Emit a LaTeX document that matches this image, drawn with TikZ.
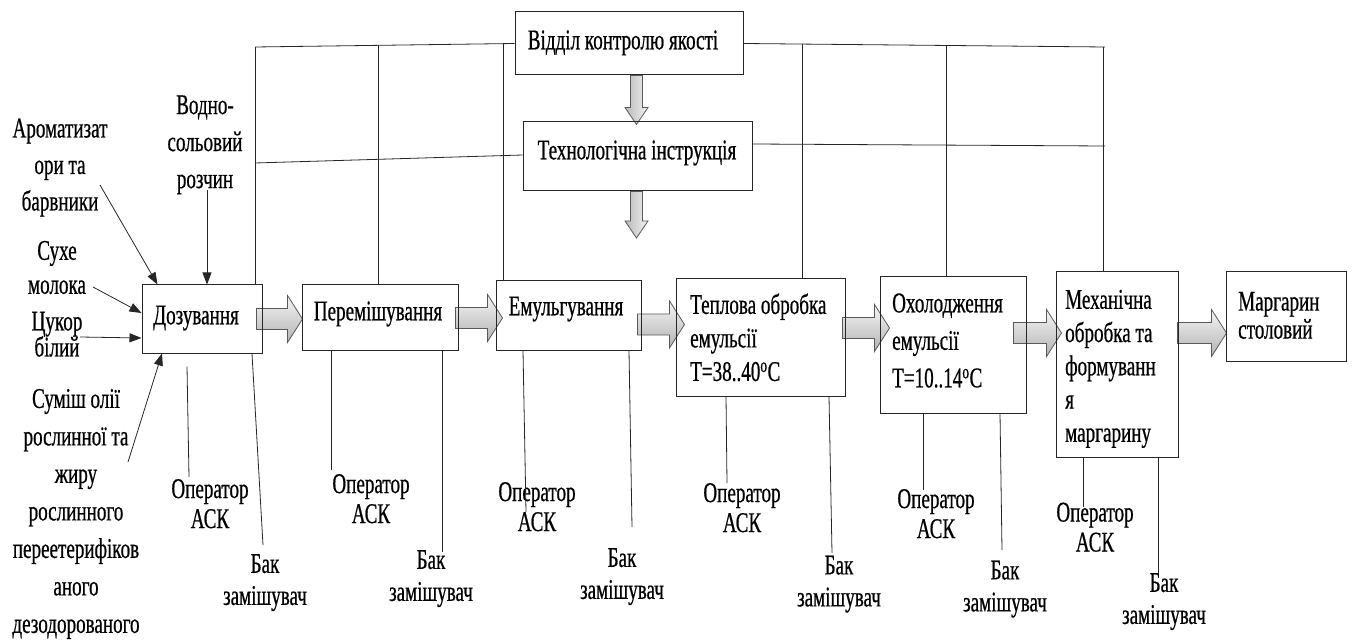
\documentclass[tikz,border=0pt]{standalone}
\usepackage{fontspec}
\setmainfont{Liberation Serif}[FakeStretch=0.67,FakeBold=0.6]
\usetikzlibrary{calc,arrows.meta,backgrounds}
\lineskiplimit=-100pt
\newcommand\fz[1]{\fontsize{28.5}{#1}\selectfont}
% horizontal block arrow: start anchor, start x offset, end anchor, tip x offset, centre y
\newcommand\harrow[5]{%
  \path[barrow] let \p1=(#1),\p2=(#3) in
  ({\x1+(#2pt)},{-#5pt+10.5pt}) -- ({\x2+(#4pt)-15pt},{-#5pt+10.5pt}) --
  ({\x2+(#4pt)-15pt},{-#5pt+23.5pt}) -- ({\x2+(#4pt)},{-#5pt}) --
  ({\x2+(#4pt)-15pt},{-#5pt-23.5pt}) -- ({\x2+(#4pt)-15pt},{-#5pt-10.5pt}) --
  ({\x1+(#2pt)},{-#5pt-10.5pt}) -- cycle;}
% vertical block arrow: start anchor, start offset, end anchor, tip offset (down), centre x
\newcommand\varrow[5]{%
  \path[varrowst] let \p1=(#1),\p2=(#3) in
  ({#5pt-6pt},{\y1-(#2pt)}) -- ({#5pt-6pt},{\y2-(#4pt)+17pt}) --
  ({#5pt-11.5pt},{\y2-(#4pt)+17pt}) -- ({#5pt},{\y2-(#4pt)}) --
  ({#5pt+11.5pt},{\y2-(#4pt)+17pt}) -- ({#5pt+6pt},{\y2-(#4pt)+17pt}) --
  ({#5pt+6pt},{\y1-(#2pt)}) -- cycle;}
\begin{document}
\begin{tikzpicture}[x=1pt,y=-1pt,
  box/.style={draw=black!85,line width=1pt,inner sep=0pt,rectangle},
  ln/.style={draw=black!85,line width=0.8pt},
  inar/.style={ln,-{Triangle[length=12pt,width=9pt]}},
  barrow/.style={draw=black!65,line width=0.8pt,top color=gray!8,bottom color=gray!60},
  varrowst/.style={draw=black!65,line width=0.8pt,left color=gray!55,right color=gray!10},
  lbl/.style={inner sep=0pt,align=center,font=\fz{#1}}, lbl/.default=36.5,
  bt/.style={inner sep=0pt,align=left,anchor=west,font=\fz{#1}}, bt/.default=36.5]
\useasboundingbox (0,0) rectangle (1352,644);

% boxes
\node[box,minimum width=228pt,minimum height=63pt] (vk) at (629,43.5) {};
\node[box,minimum width=229pt,minimum height=69pt] (ti) at (637.5,156.5) {};
\node[box,minimum width=120pt,minimum height=68pt] (doz) at (202,319) {};
\node[box,minimum width=156pt,minimum height=65pt] (per) at (380,317.5) {};
\node[box,minimum width=145pt,minimum height=69pt] (emu) at (568.5,315.5) {};
\node[box,minimum width=169pt,minimum height=117pt] (tep) at (760.5,337.5) {};
\node[box,minimum width=146pt,minimum height=136pt] (oh) at (953,345) {};
\node[box,minimum width=122pt,minimum height=185pt] (meh) at (1117,364.5) {};
\node[box,minimum width=120pt,minimum height=89pt] (mar) at (1286,316.5) {};

% box texts
\node[lbl] (vkt) at (623,42) {\strut Відділ контролю якості};
\node[lbl] (tit) at (637,152) {\strut Технологічна інструкція};
\node[lbl] (dozt) at (196,317) {\strut Дозування};
\node[lbl] (pert) at (378,313) {\strut Перемішування};
\node[lbl] (emut) at (566,308) {\strut Емульгування};
\node[bt=33.5] (tept) at (690,340.7) {\strut Теплова обробка\\\strut емульсії\\\strut T=38..40\textsuperscript{o}C};
\node[bt=37.5] (oht) at (892,342.3) {\strut Охолодження\\\strut емульсії\\\strut T=10..14\textsuperscript{o}C};
\node[bt=33.25] (meht) at (1065,368.6) {\strut Механічна\\\strut обробка та\\\strut формуванн\\\strut я\\\strut маргарину};
\node[bt=28] (mart) at (1238,319) {\strut Маргарин\\\strut столовий};

% block arrows (below box outlines)
\begin{scope}[on background layer]
\varrow{vk.south}{0}{ti.north}{3}{636.5}
\coordinate (tiarr) at (636.5,238);
\varrow{ti.south}{0}{tiarr}{0}{636.5}
\harrow{doz.east}{-6}{per.west}{1}{319}
\harrow{per.east}{-3}{emu.west}{7}{318}
\harrow{emu.east}{-4}{tep.west}{9}{324.5}
\harrow{tep.east}{-3}{oh.west}{10}{328}
\harrow{oh.east}{-13}{meh.west}{6}{333}
\harrow{meh.east}{-1}{mar.west}{1}{333}
\end{scope}

% input labels
\node[lbl] (arom) at (60,166.7) {\strut Ароматизат\\\strut ори та\\\strut барвники};
\node[lbl=34] (suhe) at (57,270) {\strut Сухе\\\strut молока};
\node[lbl=26] (tsuk) at (57,338) {\strut Цукор\\\strut білий};
\node[lbl=37.5] (sum) at (76,512.9) {\strut Суміш олії\\\strut рослинної та\\\strut жиру\\\strut рослинного\\\strut переетерифіков\\\strut аного\\\strut дезодорованого};
\node[lbl=37] (vodno) at (205,143.7) {\strut Водно-\\\strut сольовий\\\strut розчин};

% input arrows
\coordinate (a1) at (100,185);
\coordinate (a2) at (207,190);
\coordinate (a3) at (93,287);
\coordinate (a4) at (80,337);
\coordinate (a5) at (128,462);
\draw[inar] (a1) -- ([xshift=16pt]doz.north west);
\draw[inar] (a2) -- (a2 |- doz.north);
\draw[inar] (a3) -- ([yshift=6pt]doz.west);
\draw[inar] (a4) -- ([yshift=-19pt]doz.west);
\draw[inar] (a5) -- ([xshift=-40pt]doz.south);

% control lines
\coordinate (tl) at (255,47);
\coordinate (tr) at (1105,47);
\coordinate (ml) at (255,163);
\coordinate (mr) at (1105,146);
\draw[ln] (vk.west) -- (tl);
\draw[ln] (vk.east) -- (tr);
\draw[ln] ([yshift=1.5pt]ti.west) -- (ml);
\draw[ln] ([yshift=12.5pt]ti.east) -- (mr);
\coordinate (v2) at (378,45.3);
\coordinate (v3) at (503,43.7);
\coordinate (v4) at (802,44.1);
\coordinate (v5) at (946,45.5);
\coordinate (v6) at (1103,47);
\draw[ln] (tl) -- (tl |- doz.north);
\draw[ln] (v2) -- (v2 |- per.north);
\draw[ln] (v3) -- (v3 |- emu.north);
\draw[ln] (v4) -- (v4 |- tep.north);
\draw[ln] (v5) -- (v5 |- oh.north);
\draw[ln] (v6) -- (v6 |- meh.north);

% bottom labels
\node[lbl=30] (dop) at (210,507) {\strut Оператор\\\strut АСК};
\node[lbl=32] (dbk) at (265,582.5) {\strut Бак\\\strut замішувач};
\node[lbl=30] (pop) at (371,502) {\strut Оператор\\\strut АСК};
\node[lbl=32] (pbk) at (431,578.5) {\strut Бак\\\strut замішувач};
\node[lbl=30] (eop) at (537,510) {\strut Оператор\\\strut АСК};
\node[lbl=32] (ebk) at (622,576.5) {\strut Бак\\\strut замішувач};
\node[lbl=30] (top) at (742,511) {\strut Оператор\\\strut АСК};
\node[lbl=32] (tbk) at (839,584) {\strut Бак\\\strut замішувач};
\node[lbl=30] (oop) at (936,517) {\strut Оператор\\\strut АСК};
\node[lbl=32] (obk) at (1005,589) {\strut Бак\\\strut замішувач};
\node[lbl=30] (mop) at (1095,530.5) {\strut Оператор\\\strut АСК};
\node[lbl=32] (mbk) at (1164,601.5) {\strut Бак\\\strut замішувач};

% bottom connectors
\coordinate (dopE) at (189,477);
\coordinate (dbkE) at (263,545);
\coordinate (popE) at (331,470);
\coordinate (pbkE) at (442,552);
\coordinate (eopE) at (526,512);
\coordinate (ebkE) at (632,527);
\coordinate (topE) at (727,483);
\coordinate (tbkE) at (832,553);
\coordinate (oopE) at (923,490);
\coordinate (obkE) at (1002,550);
\coordinate (mopE) at (1083,507);
\coordinate (mbkE) at (1158,573);
\draw[ln] ([xshift=-15pt,yshift=-13pt]doz.south) -- (dopE);
\draw[ln] ([xshift=50pt]doz.south) -- (dbkE);
\draw[ln] ([xshift=-49pt]per.south) -- (popE);
\draw[ln] ([xshift=62pt]per.south) -- (pbkE);
\draw[ln] ([xshift=-45.5pt]emu.south) -- (eopE);
\draw[ln] ([xshift=60.5pt]emu.south) -- (ebkE);
\draw[ln] ([xshift=-34.5pt]tep.south) -- (topE);
\draw[ln] ([xshift=68.5pt]tep.south) -- (tbkE);
\draw[ln] ([xshift=-30pt]oh.south) -- (oopE);
\draw[ln] ([xshift=47pt]oh.south) -- (obkE);
\draw[ln] ([xshift=-34pt]meh.south) -- (mopE);
\draw[ln] ([xshift=41pt]meh.south) -- (mbkE);
\end{tikzpicture}
\end{document}
